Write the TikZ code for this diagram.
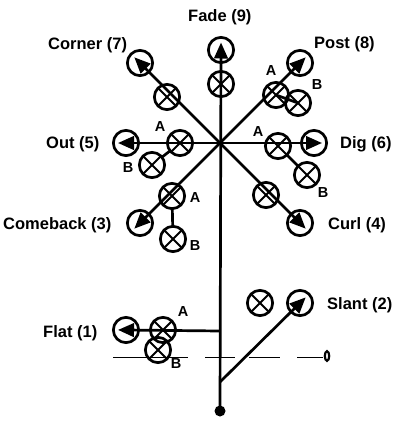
\documentclass[tikz,border=0pt]{standalone}
\usepackage{fontspec}
\setmainfont{Liberation Sans}
\usetikzlibrary{arrows.meta,calc}
\begin{document}
\begin{tikzpicture}[x=1pt,y=-1pt,
  ln/.style={line width=2.7pt},
  xc/.style={circle,draw,line width=2.7pt,minimum size=25.3pt,inner sep=0pt,outer sep=0pt,
    path picture={\draw[line width=2pt] (path picture bounding box.north west)--(path picture bounding box.south east) (path picture bounding box.north east)--(path picture bounding box.south west);}},
  ac/.style={circle,draw,line width=2.7pt,minimum size=25.3pt,inner sep=0pt,outer sep=0pt},
  tip/.style={-{Triangle[length=16pt,width=13.5pt]}},
  lbl/.style={font=\bfseries\fontsize{16.5}{18}\selectfont,anchor=base west,inner sep=0pt},
  ab/.style={font=\bfseries\fontsize{14.5}{16}\selectfont,inner sep=0pt},
  thinln/.style={line width=1pt}]
\useasboundingbox (0,0) rectangle (400,423);
% key points
\coordinate (hub) at (220,143);
\coordinate (base) at (220,411);
\coordinate (flatj) at (220,331);
\coordinate (slantj) at (220,382);
% arrow circles
\node[ac] (fa) at (221,50) {};
\node[ac] (ca) at (140,63) {};
\node[ac] (pa) at (300,63) {};
\node[ac] (oa) at (126,143) {};
\node[ac] (da) at (314,143) {};
\node[ac] (cba) at (140,223) {};
\node[ac] (cua) at (300,223) {};
\node[ac] (fla) at (126,330) {};
\node[ac] (sa) at (300,303) {};
% x circles
\node[xc] (fx) at (221,84) {};
\node[xc] (cx) at (167,97) {};
\node[xc] (pA) at (276,95) {};
\node[xc] (pB) at (298,103) {};
\node[xc] (oA) at (180,143) {};
\node[xc] (oB) at (152,165) {};
\node[xc] (dA) at (278,146) {};
\node[xc] (dB) at (307,175) {};
\node[xc] (cbA) at (172,196) {};
\node[xc] (cbB) at (173,239) {};
\node[xc] (cux) at (266,195) {};
\node[xc] (flA) at (163,330) {};
\node[xc] (flB) at (158,350) {};
\node[xc] (sx) at (260,303) {};
% routes
\draw[ln,tip] (base) -- ($(fa)!-7.5pt!(base)$);
\draw[ln,tip] (hub) -- ($(ca)!-8pt!(hub)$);
\draw[ln,tip] (hub) -- ($(pa)!-8pt!(hub)$);
\draw[ln,tip] (hub) -- ($(oa)!-8pt!(hub)$);
\draw[ln,tip] (hub) -- ($(da)!-8pt!(hub)$);
\draw[ln,tip] (hub) -- ($(cba)!-8pt!(hub)$);
\draw[ln,tip] (hub) -- ($(cua)!-8pt!(hub)$);
\draw[ln,tip] (flatj) -- ($(fla)!-8pt!(flatj)$);
\draw[ln,tip] (slantj) -- ($(sa)!-8pt!(slantj)$);
\draw[ln] (pA.center) -- (pB.center);
\draw[ln] (oA) -- (oB);
\draw[ln] (dA) -- (dB);
\draw[ln] (cbA) -- (cbB);
% base dot
\fill (base) circle (5.5);
% line of scrimmage
\draw[thinln] (113,357) -- (188,357) (205,357) -- (235,357) (249,357) -- (280,357) (297,357) -- (323,357);
\draw[line width=2.2pt] (327,356) ellipse (2.2 and 4.8);
% labels
\node[lbl] (lfade) at (188,21) {Fade (9)};
\node[lbl] (lcorner) at (48,49) {Corner (7)};
\node[lbl] (lpost) at (314,48) {Post (8)};
\node[lbl] (lout) at (46,148) {Out (5)};
\node[lbl] (ldig) at (340,148) {Dig (6)};
\node[lbl] (lcb) at (3,229) {Comeback (3)};
\node[lbl] (lcurl) at (328,229) {Curl (4)};
\node[lbl] (lflat) at (43,337) {Flat (1)};
\node[lbl] (lslant) at (327,309) {Slant (2)};
\node[ab] (tpA) at (271,71) {A};
\node[ab] (tpB) at (317,85) {B};
\node[ab] (toA) at (160,127) {A};
\node[ab] (toB) at (128,168) {B};
\node[ab] (tdA) at (258,132) {A};
\node[ab] (tdB) at (323,193) {B};
\node[ab] (tcA) at (195,198) {A};
\node[ab] (tcB) at (195,246) {B};
\node[ab] (tfA) at (183,312) {A};
\node[ab] (tfB) at (176,364) {B};
\end{tikzpicture}
\end{document}
